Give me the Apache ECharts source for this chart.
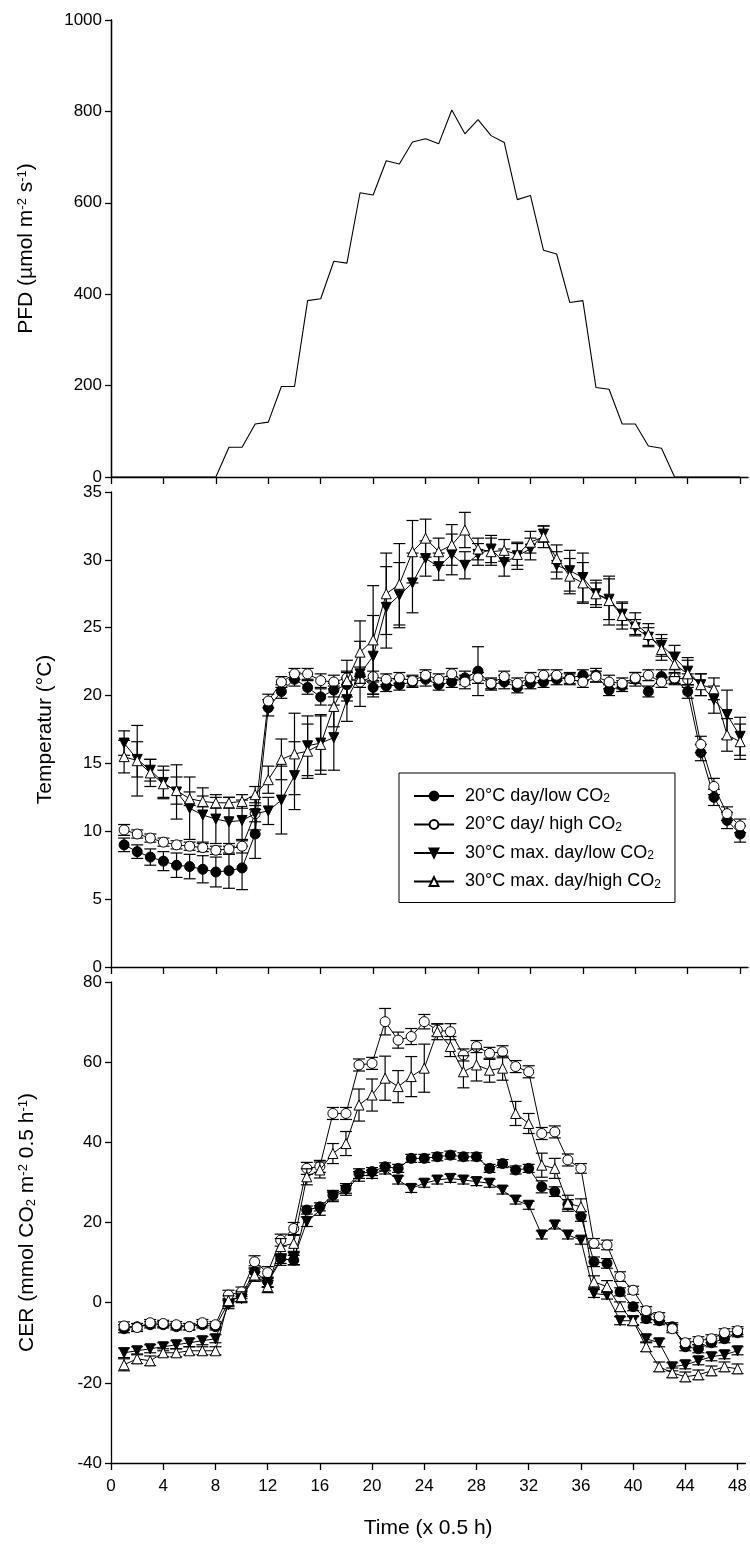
<!DOCTYPE html>
<html><head><meta charset="utf-8">
<script src="https://cdn.jsdelivr.net/npm/echarts@6/dist/echarts.min.js"></script>
<style>html,body{margin:0;padding:0;background:#fff}#c{width:750px;height:1546px}</style>
</head><body><div id="c"></div>
<script>
// ---------- data ----------
const xTickValues = [0, 4, 8, 12, 16, 20, 24, 28, 32, 36, 40, 44, 48];
const pfdTime = [0,1,2,3,4,5,6,7,8,9,10,11,12,13,14,15,16,17,18,19,20,21,22,23,24,25,26,27,28,29,30,31,32,33,34,35,36,37,38,39,40,41,42,43,44,45,46,47,48];
const pfdValues = [0,0,0,0,0,0,0,0,0,65,65,116,120,198,198,386,390,472,468,622,617,692,685,733,740,729,803,751,782,747,732,607,616,496,488,382,386,196,192,116,116,68,63,0,0,0,0,0,0];
const time = [1,2,3,4,5,6,7,8,9,10,11,12,13,14,15,16,17,18,19,20,21,22,23,24,25,26,27,28,29,30,31,32,33,34,35,36,37,38,39,40,41,42,43,44,45,46,47,48];
const seriesNames = ['20°C day/low CO2', '20°C day/ high CO2', '30°C max. day/low CO2', '30°C max. day/high CO2'];

const temp20Low = [9.0,8.5,8.1,7.8,7.5,7.4,7.2,7.0,7.1,7.3,9.8,19.1,20.3,21.2,20.6,19.9,20.4,20.8,21.5,20.6,20.7,20.8,21.0,21.2,20.8,21.0,21.3,21.8,20.8,21.0,20.6,20.9,21.0,21.2,21.3,21.5,21.5,20.4,20.7,21.2,20.3,21.4,21.2,20.3,15.8,12.5,10.8,9.8];
const temp20LowErr = [0.5,0.5,0.6,0.7,0.9,0.9,1.0,1.1,1.3,1.6,1.8,0.6,0.5,0.5,0.5,0.6,0.5,0.9,0.6,0.5,0.4,0.4,0.4,0.5,0.4,0.4,0.5,1.8,0.4,0.5,0.4,0.4,0.4,0.4,0.4,0.4,0.5,0.4,0.4,0.5,0.4,0.5,0.4,0.5,0.6,0.6,0.6,0.6];
const temp20High = [10.1,9.8,9.5,9.2,9.0,8.9,8.8,8.6,8.7,8.9,11.3,19.6,21.0,21.6,21.6,21.1,21.0,21.3,21.0,21.4,21.2,21.3,21.1,21.5,21.2,21.6,21.0,21.3,20.9,21.4,20.9,21.3,21.5,21.5,21.2,21.0,21.4,21.0,20.9,21.3,21.5,21.0,21.3,21.2,16.4,13.3,11.3,10.4];
const temp20HighErr = [0.4,0.3,0.3,0.3,0.3,0.3,0.3,0.3,0.4,0.5,0.6,0.5,0.4,0.4,0.4,0.5,0.5,0.5,0.4,0.4,0.4,0.4,0.4,0.4,0.4,0.4,0.5,0.4,0.4,0.4,0.4,0.4,0.4,0.4,0.4,0.4,0.4,0.5,0.4,0.4,0.4,0.4,0.4,0.4,0.6,0.6,0.5,0.5];
const temp30Low = [16.5,15.3,14.5,13.6,12.9,11.7,11.2,10.9,10.7,10.8,11.3,11.5,12.3,14.1,16.3,16.5,16.9,19.7,21.6,22.9,26.5,27.4,28.3,30.1,29.5,30.4,29.6,30.4,30.8,29.8,30.3,30.8,31.9,29.6,29.2,28.7,27.5,27.1,26.0,25.0,24.3,23.7,22.8,21.8,20.8,19.7,18.6,17.0];
const temp30LowErr = [0.9,1.3,0.8,1.2,2.0,2.3,2.0,1.8,1.8,1.5,1.2,1.0,2.5,2.5,2.2,2.0,2.4,1.6,2.4,3.0,3.0,2.4,2.2,1.3,1.0,1.5,1.0,0.8,1.0,1.0,1.0,0.8,0.6,1.0,1.5,1.8,0.8,1.5,0.8,0.6,0.7,0.8,0.9,1.0,0.8,1.0,1.8,1.4];
const temp30High = [15.5,15.2,14.3,13.5,13.0,12.4,12.2,12.1,12.1,12.2,12.7,13.8,15.3,15.7,15.9,16.4,19.2,21.1,23.2,24.1,27.5,28.2,30.6,31.6,30.6,31.1,32.2,30.8,30.6,30.7,30.4,31.3,31.7,30.1,28.8,28.3,27.5,27.0,25.9,25.3,24.5,23.4,22.3,21.6,20.8,20.5,17.1,16.6];
const temp30HighErr = [1.2,2.6,1.0,1.0,1.0,0.5,0.4,0.4,0.4,0.5,0.6,1.0,1.5,3.0,2.0,2.2,1.5,1.5,2.3,4.0,3.0,3.0,2.3,1.4,1.0,1.5,1.3,0.8,1.0,0.8,0.8,0.8,0.8,1.0,1.3,1.5,1.0,1.8,1.0,0.8,0.8,0.8,0.9,1.0,0.8,0.8,1.2,1.3];

const cer20Low = [-6.5,-6.0,-5.5,-5.5,-6.0,-6.0,-5.5,-6.0,0.0,2.0,7.7,5.2,11.0,10.6,23.1,23.9,26.8,28.5,32.2,32.7,33.9,33.5,36.0,36.0,36.4,36.8,36.4,36.4,33.5,34.7,33.1,33.5,28.9,27.7,24.5,21.5,10.2,9.8,2.7,-1.0,-4.0,-4.5,-6.0,-11.0,-11.5,-10.0,-9.0,-7.5];
const cer20LowErr = [1.0,0.8,0.8,0.8,0.8,0.8,0.8,0.8,1.0,1.0,1.5,1.2,1.2,1.2,1.0,1.0,1.2,1.2,1.2,1.0,1.0,1.0,1.0,1.0,1.0,1.0,1.0,1.0,1.0,1.0,1.0,1.0,1.5,1.2,1.2,1.2,1.2,1.2,1.0,1.0,1.0,1.0,1.0,1.0,1.0,1.0,1.0,1.0];
const cer20High = [-5.8,-6.2,-5.0,-5.2,-5.5,-6.0,-5.0,-5.5,1.9,2.7,10.2,7.5,15.6,18.5,33.5,34.0,47.2,47.2,59.3,59.7,70.1,65.5,66.4,70.1,68.0,67.6,61.8,63.9,62.2,62.6,58.9,57.6,42.2,42.6,35.6,33.5,14.8,14.4,6.5,3.1,-2.0,-3.5,-6.5,-10.0,-9.5,-9.0,-7.5,-7.0];
const cer20HighErr = [1.0,1.0,0.8,0.8,0.8,0.8,0.8,0.8,1.2,1.2,1.5,1.5,1.5,1.5,1.5,1.5,1.5,1.5,1.5,1.5,3.3,2.0,2.0,1.8,1.5,2.0,1.5,1.5,1.5,1.5,1.5,1.5,1.5,1.5,1.5,1.2,1.2,1.2,1.2,1.0,1.0,1.0,1.0,1.0,1.0,1.0,1.0,1.0];
const cer30Low = [-12.5,-12.0,-11.5,-11.0,-10.5,-10.0,-9.5,-9.0,-0.5,1.0,6.5,5.0,10.5,11.0,20.2,23.0,26.4,28.0,31.5,32.0,33.1,30.6,28.5,29.8,30.6,31.0,30.6,30.2,29.8,28.1,25.6,24.3,16.9,19.4,16.9,15.6,2.3,1.9,-4.5,-4.5,-9.0,-10.0,-16.0,-15.5,-14.5,-13.5,-13.0,-12.0];
const cer30LowErr = [1.2,1.0,1.0,1.0,1.0,1.0,1.0,1.0,1.0,1.0,1.2,1.2,1.2,1.5,1.2,1.2,1.2,1.2,1.2,1.0,1.0,1.0,1.0,1.0,1.0,1.0,1.0,1.0,1.0,1.0,1.0,1.0,1.0,1.0,1.0,1.0,1.0,1.0,1.0,1.0,1.0,1.0,1.0,1.0,1.0,1.0,1.0,1.0];
const cer30High = [-15.5,-14.0,-14.5,-12.5,-12.5,-12.0,-12.0,-12.0,0.5,1.5,6.9,4.0,14.0,14.8,31.4,33.1,37.2,39.7,49.3,51.8,56.0,53.9,56.4,58.5,67.6,63.9,57.6,59.3,58.0,58.5,47.2,44.7,34.3,33.5,24.8,23.9,5.2,4.0,-1.0,-4.5,-11.0,-16.0,-17.5,-18.5,-18.0,-17.0,-16.0,-16.5];
const cer30HighErr = [1.5,1.2,1.2,1.0,1.0,1.0,1.0,1.0,1.2,1.2,1.5,1.5,2.0,2.0,2.0,2.0,2.5,3.0,4.0,4.0,5.5,4.0,5.0,6.0,2.0,2.5,4.0,4.0,3.0,3.0,3.0,2.5,3.0,2.5,2.0,2.0,1.5,1.5,1.2,1.2,1.2,1.2,1.2,1.2,1.2,1.2,1.2,1.2];

// ---------- styling ----------
const FONT = "'Liberation Sans', Arial, sans-serif";
const BLACK = '#000';
const X_MAX = 48.6;
const grids = [
  { left: 111, top: 20, width: 637, height: 457 },
  { left: 111, top: 492, width: 637, height: 475 },
  { left: 111, top: 982, width: 637, height: 481 }
];
const DOWN_TRI = 'path://M0,0 L10,0 L5,9 Z';
const UP_TRI = 'path://M5,0 L10,9 L0,9 Z';
const markerStyles = [
  { symbol: 'circle', fill: BLACK },
  { symbol: 'circle', fill: '#fff' },
  { symbol: DOWN_TRI, fill: BLACK },
  { symbol: UP_TRI, fill: '#fff' }
];
const TITLE_SIZE = 21;

function xAxisFor(i, showLabels) {
  return {
    type: 'value', gridIndex: i, min: 0, max: X_MAX, interval: 4,
    axisLine: { show: true, onZero: false, lineStyle: { color: BLACK, width: 1.3 } },
    axisTick: { show: true, inside: false, length: 7, customValues: xTickValues, lineStyle: { color: BLACK, width: 1.3 } },
    axisLabel: { show: showLabels, customValues: xTickValues, margin: 15, color: BLACK, fontSize: 17, fontFamily: FONT },
    splitLine: { show: false },
    name: showLabels ? 'Time (x 0.5 h)' : '',
    nameLocation: 'middle', nameGap: 55,
    nameTextStyle: { color: BLACK, fontSize: TITLE_SIZE, fontFamily: FONT }
  };
}
function yAxisFor(i, min, max, interval, name, gap) {
  return {
    type: 'value', gridIndex: i, min: min, max: max, interval: interval,
    axisLine: { show: true, onZero: false, lineStyle: { color: BLACK, width: 1.3 } },
    axisTick: { show: true, inside: false, length: 6, lineStyle: { color: BLACK, width: 1.3 } },
    axisLabel: { show: true, margin: 9, color: BLACK, fontSize: 17, fontFamily: FONT,
      formatter: function (v) { return String(v); } },
    splitLine: { show: false },
    name: name, nameLocation: 'middle', nameGap: gap, nameRotate: 90,
    nameTextStyle: {
      color: BLACK, fontSize: TITLE_SIZE, fontFamily: FONT,
      rich: {
        sup: { fontSize: 13, verticalAlign: 'top', lineHeight: 12, fontFamily: FONT, color: BLACK },
        sub: { fontSize: 13, verticalAlign: 'bottom', lineHeight: 12, fontFamily: FONT, color: BLACK }
      }
    }
  };
}

function lineSeries(k, xs, ys, xi, yi) {
  const m = markerStyles[k];
  return {
    type: 'line', name: seriesNames[k], xAxisIndex: xi, yAxisIndex: yi, z: 3 + k,
    data: xs.map((t, i) => [t, ys[i]]),
    symbol: m.symbol, symbolSize: 10, showSymbol: true,
    itemStyle: { color: m.fill, borderColor: BLACK, borderWidth: 1 },
    lineStyle: { color: BLACK, width: 1 },
    emphasis: { disabled: true }, animation: false
  };
}
function errSeries(k, xs, ys, es, xi, yi) {
  return {
    type: 'custom', name: seriesNames[k] + ' err', xAxisIndex: xi, yAxisIndex: yi, z: 2 + k, silent: true,
    data: xs.map((t, i) => [t, ys[i] - es[i], ys[i] + es[i]]),
    encode: { x: 0, y: [1, 2] },
    renderItem: function (params, api) {
      const lo = api.coord([api.value(0), api.value(1)]);
      const hi = api.coord([api.value(0), api.value(2)]);
      const w = 6;
      const st = { stroke: BLACK, lineWidth: 1.2 };
      return { type: 'group', children: [
        { type: 'line', shape: { x1: lo[0], y1: lo[1], x2: hi[0], y2: hi[1] }, style: st },
        { type: 'line', shape: { x1: lo[0] - w, y1: lo[1], x2: lo[0] + w, y2: lo[1] }, style: st },
        { type: 'line', shape: { x1: hi[0] - w, y1: hi[1], x2: hi[0] + w, y2: hi[1] }, style: st }
      ] };
    },
    animation: false
  };
}

const tempSets = [[temp20Low, temp20LowErr], [temp20High, temp20HighErr], [temp30Low, temp30LowErr], [temp30High, temp30HighErr]];
const cerSets = [[cer20Low, cer20LowErr], [cer20High, cer20HighErr], [cer30Low, cer30LowErr], [cer30High, cer30HighErr]];

const series = [];
series.push({
  type: 'line', name: 'PFD', xAxisIndex: 0, yAxisIndex: 0,
  data: pfdTime.map((t, i) => [t, pfdValues[i]]),
  showSymbol: false, symbol: 'none', lineStyle: { color: BLACK, width: 1.1 }, animation: false
});
tempSets.forEach((s, k) => { series.push(errSeries(k, time, s[0], s[1], 1, 1)); });
tempSets.forEach((s, k) => { series.push(lineSeries(k, time, s[0], 1, 1)); });
cerSets.forEach((s, k) => { series.push(errSeries(k, time, s[0], s[1], 2, 3)); });
cerSets.forEach((s, k) => { series.push(lineSeries(k, time, s[0], 2, 3)); });

const option = {
  backgroundColor: '#fff',
  animation: false,
  textStyle: { fontFamily: FONT },
  grid: grids,
  xAxis: [xAxisFor(0, false), xAxisFor(1, false), xAxisFor(2, true)],
  yAxis: [
    yAxisFor(0, 0, 1000, 200, 'PFD (µmol m{sup|-2} s{sup|-1})', 74),
    yAxisFor(1, 0, 35, 5, 'Temperatur (°C)', 55),
    // right frame line of the top panel
    { type: 'value', gridIndex: 0, position: 'right', min: 0, max: 1000, interval: 200,
      axisLine: { show: true, lineStyle: { color: BLACK, width: 1.3 } },
      axisTick: { show: false }, axisLabel: { show: false }, splitLine: { show: false } },
    yAxisFor(2, -40, 80, 20, 'CER (mmol CO{sub|2} m{sup|-2} 0.5 h{sup|-1})', 73)
  ],
  legend: {
    orient: 'vertical', left: 399, top: 773,
    padding: [14, 14, 12, 14],
    itemWidth: 40, itemHeight: 11, itemGap: 10.5,
    borderColor: BLACK, borderWidth: 1, borderRadius: 0, backgroundColor: '#fff',
    data: seriesNames,
    selectedMode: false,
    formatter: function (n) { return n.replace('CO2', 'CO{sub|2}'); },
    textStyle: {
      color: BLACK, fontSize: 18, fontFamily: FONT, lineHeight: 18, padding: [0, 0, 0, 6],
      rich: { sub: { fontSize: 12, verticalAlign: 'bottom', lineHeight: 10, color: BLACK, fontFamily: FONT } }
    }
  },
  series: series
};

const chart = echarts.init(document.getElementById('c'), null, { renderer: 'canvas' });
chart.setOption(option);
</script>
</body></html>
